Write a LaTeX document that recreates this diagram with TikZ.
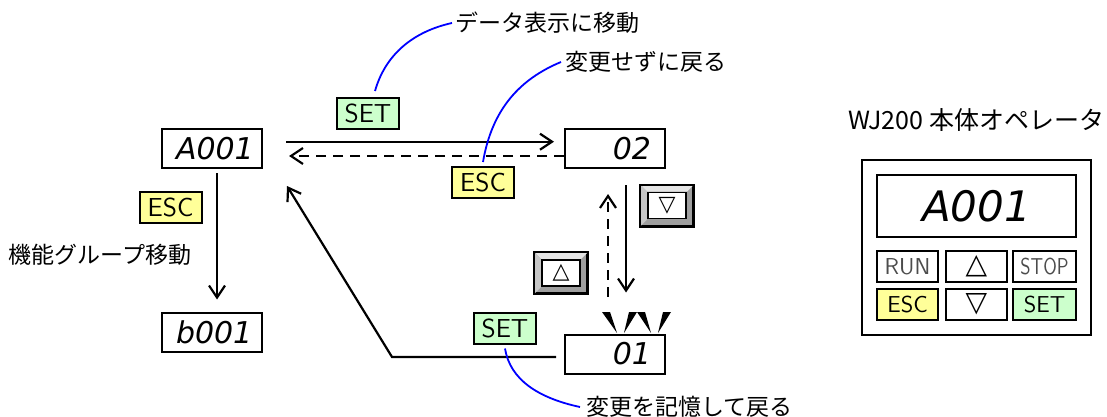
\documentclass[tikz,border=0pt]{standalone}
\usepackage{fontspec}
\setmainfont{Noto Sans CJK JP}
\newfontfamily\segfont{DejaVu Sans}
\newfontfamily\symfont{DejaVu Sans}
\usepackage{graphicx}
\usepackage{xcolor}
\usetikzlibrary{arrows.meta, positioning}

\definecolor{escyellow}{RGB}{255,255,153}
\definecolor{setgreen}{RGB}{204,255,204}

\begin{document}
\begin{tikzpicture}[x=0.5pt, y=-0.5pt, >={Straight Barb[length=6pt, width=8pt]},
    flow/.style={draw=black, line width=1.1pt, ->},
    back/.style={flow, dash pattern=on 5pt off 3.5pt},
    callout/.style={draw=blue, line width=0.9pt},
    note/.style={inner sep=0pt, anchor=west, font=\fontsize{11.5pt}{14pt}\selectfont}]
    % Define styles for displays, keys and the operator panel
    \tikzstyle{display} = [draw, line width=1pt, fill=white, rectangle, minimum width=50pt, minimum height=19.5pt, inner xsep=7pt, inner ysep=0pt, text width=36pt, align=right, font=\segfont\itshape\fontsize{15pt}{15pt}\selectfont]
    \tikzstyle{keylabel} = [draw, line width=1pt, rectangle, minimum width=31pt, minimum height=15.5pt, inner sep=0pt, font=\sffamily\fontsize{13pt}{15pt}\selectfont]
    \tikzstyle{keyframe} = [draw, line width=1pt, fill=gray!75, rectangle, minimum width=26pt, minimum height=20pt, inner sep=0pt]
    \tikzstyle{keyface} = [draw, line width=0.9pt, fill=white, rectangle, minimum width=19pt, minimum height=13pt, inner sep=0pt, font=\symfont\fontsize{11pt}{11pt}\selectfont]
    \tikzstyle{panelkey} = [draw, line width=1pt, rectangle, minimum width=30.5pt, minimum height=15.5pt, inner sep=0pt, font=\sffamily\fontsize{11.5pt}{13pt}\selectfont]

    \useasboundingbox (0,0) rectangle (1107,417);

    % Display states
    \node [display] (a001) at (212,148.5) {A001};
    \node [display, node distance=201.5pt, right of=a001] (v02) {02};
    \node [display, node distance=91.75pt, below of=a001] (b001) {b001};
    \node [display, node distance=102.75pt, below of=v02] (v01) {01};

    % Key labels
    \node [keylabel, fill=setgreen] (set1) at (368,113.5) {SET};
    \node [keylabel, fill=escyellow] (esc1) at (483,182.5) {ESC};
    \node [keylabel, fill=escyellow] (esc2) at (170.5,207) {ESC};
    \node [keylabel, fill=setgreen] (set2) at (505,328) {SET};

    % Cursor keys
    \foreach \k/\pos/\sym in {dnkey/{667,205.5}/▽, upkey/{561,273}/△} {
        \node [keyframe] (\k) at (\pos) {};
        \fill [gray!20] (\k.north west) -- (\k.north east) -- ([shift={(-3.5pt,-3.5pt)}]\k.north east) -- ([shift={(3.5pt,-3.5pt)}]\k.north west) -- cycle;
        \fill [gray!45] (\k.north west) -- ([shift={(3.5pt,-3.5pt)}]\k.north west) -- ([shift={(3.5pt,3.5pt)}]\k.south west) -- (\k.south west) -- cycle;
        \draw [line width=1pt] (\k.north west) rectangle (\k.south east);
        \node [keyface] (\k-face) at (\k) {\sym};
    }

    % Blinking marks over 01
    \foreach \a/\b in {606/617, 633/624, 641/651, 667/658}
        \fill (\a-4,312) -- (\a+4,312) -- (\b,333) -- cycle;

    % Transitions
    \draw [flow, shorten <=11.5pt, shorten >=5pt] ([yshift=3.4pt]a001.east) -- ([yshift=3.4pt]v02.west);
    \draw [back, shorten >=13pt] ([yshift=-3.75pt]v02.west) -- ([yshift=-3.75pt]a001.east);
    \draw [flow, shorten <=2pt, shorten >=6pt] ([xshift=2.5pt]a001.south) -- ([xshift=2.5pt]b001.north);
    \draw [flow, shorten <=8pt, shorten >=20.5pt] ([xshift=5.5pt]v02.south) -- ([xshift=5.5pt]v01.north);
    \draw [back, shorten <=18.5pt, shorten >=12.5pt] ([xshift=-3.5pt]v01.north) -- ([xshift=-3.5pt]v02.south);
    \coordinate (retbend) at (392,357);
    \coordinate (rettip) at (287,186);
    \draw [flow] ([shift={(-4pt,-1.5pt)}]v01.west) -- (retbend) -- (rettip);

    % Messages and their callouts
    \node [note] (msgdata) at (455,23) {データ表示に移動};
    \node [note] (msgkeep) at (565,62) {変更せずに戻る};
    \node [note] (msggroup) at (8,255) {機能グループ移動};
    \node [note] (msgstore) at (586,407) {変更を記憶して戻る};
    \draw [callout] ([shift={(3.5pt,3pt)}]set1.north) .. controls +(12,-42) and +(-32,7) .. ([xshift=-1.5pt]msgdata.west);
    \draw [callout] ([yshift=2pt]esc1.north) .. controls +(9,-53) and +(-41,17) .. ([xshift=-2pt]msgkeep.west);
    \draw [callout] ([yshift=-2pt]set2.south) .. controls +(5,31) and +(-42,-9) .. ([xshift=-3pt]msgstore.west);

    % WJ200 operator panel
    \node [note, font=\fontsize{12.5pt}{15pt}\selectfont] (paneltitle) at (848,120) {WJ200 本体オペレータ};
    \node [draw, line width=1pt, minimum width=114.5pt, minimum height=87.5pt] (panel) at (976.5,247.5) {};
    \node [draw, line width=1pt, minimum width=99.5pt, minimum height=31pt, inner sep=0pt, font=\segfont\itshape\fontsize{21pt}{21pt}\selectfont] (paneldisp) at (976.5,206) {A001};
    \node [panelkey, text=black!70] (prun) at (907.5,266.5) {RUN};
    \node [panelkey, font=\symfont\fontsize{14pt}{14pt}\selectfont] (pup) at (976.5,266.5) {△};
    \node [panelkey, minimum width=31.5pt, text=black!70] (pstop) at (1044.5,266.5) {\scalebox{0.82}[1]{STOP}};
    \node [panelkey, fill=escyellow] (pesc) at (907.5,304.5) {ESC};
    \node [panelkey, font=\symfont\fontsize{14pt}{14pt}\selectfont] (pdn) at (976.5,304.5) {▽};
    \node [panelkey, minimum width=31.5pt, fill=setgreen] (pset) at (1044.5,304.5) {SET};
\end{tikzpicture}
\end{document}
